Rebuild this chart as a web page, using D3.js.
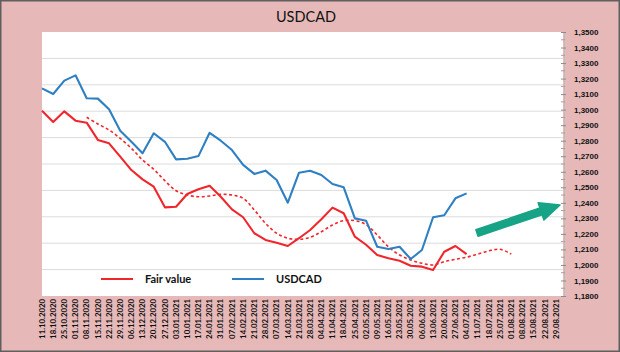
<!DOCTYPE html>
<html>
<head>
<meta charset="utf-8">
<script src="https://d3js.org/d3.v7.min.js"></script>
<style>
  body { margin: 0; background: #fff; }
  svg { display: block; }
</style>
</head>
<body>
<div id="chart"></div>
<script>
// weekly categories
const dates = [
  "11.10.2020", "18.10.2020", "25.10.2020", "01.11.2020", "08.11.2020", "15.11.2020",
  "22.11.2020", "29.11.2020", "06.12.2020", "13.12.2020", "20.12.2020", "27.12.2020",
  "03.01.2021", "10.01.2021", "17.01.2021", "24.01.2021", "31.01.2021", "07.02.2021",
  "14.02.2021", "21.02.2021", "28.02.2021", "07.03.2021", "14.03.2021", "21.03.2021",
  "28.03.2021", "04.04.2021", "11.04.2021", "18.04.2021", "25.04.2021", "02.05.2021",
  "09.05.2021", "16.05.2021", "23.05.2021", "30.05.2021", "06.06.2021", "13.06.2021",
  "20.06.2021", "27.06.2021", "04.07.2021", "11.07.2021", "18.07.2021", "25.07.2021",
  "01.08.2021", "08.08.2021", "15.08.2021", "22.08.2021", "29.08.2021"
];

const usdcad = [
  1.3137, 1.3101, 1.3187, 1.3221, 1.3073, 1.3071, 1.3002, 1.2864, 1.2793, 1.2719,
  1.2848, 1.2793, 1.2680, 1.2684, 1.2701, 1.2851, 1.2800, 1.2740, 1.2644, 1.2586,
  1.2607, 1.2547, 1.2401, 1.2594, 1.2607, 1.2579, 1.2521, 1.2500, 1.2300, 1.2285,
  1.2117, 1.2103, 1.2117, 1.2038, 1.2096, 1.2307, 1.2320, 1.2429, 1.2461
];

const fairValue = [
  1.2993, 1.2920, 1.2989, 1.2929, 1.2916, 1.2805, 1.2783, 1.2697, 1.2611, 1.2551,
  1.2504, 1.2371, 1.2375, 1.2457, 1.2487, 1.2510, 1.2439, 1.2358, 1.2307, 1.2204,
  1.2161, 1.2143, 1.2122, 1.2172, 1.2225, 1.2294, 1.2369, 1.2333, 1.2182, 1.2130,
  1.2064, 1.2043, 1.2027, 1.1995, 1.1989, 1.1967, 1.2085, 1.2122, 1.2070
];

// smoothed fair value (dashed, no legend entry)
const fairTrend = [
  null, null, null, null, 1.2951, 1.2908, 1.2869, 1.2815, 1.2751, 1.2676,
  1.2616, 1.2542, 1.2478, 1.2450, 1.2439, 1.2444, 1.2455, 1.2450, 1.2429, 1.2354,
  1.2268, 1.2204, 1.2172, 1.2165, 1.2178, 1.2214, 1.2257, 1.2285, 1.2285, 1.2260,
  1.2193, 1.2117, 1.2064, 1.2032, 1.2011, 1.2000, 1.2021, 1.2036, 1.2050, 1.2070,
  1.2091, 1.2101, 1.2070
];

const yTicks = d3.range(1.18, 1.3501, 0.01);

const W = 620, H = 352;
const plot = { left: 42, right: 563, top: 32, bottom: 296 };

const svg = d3.select("#chart").append("svg")
  .attr("width", W)
  .attr("height", H)
  .style("font-family", "Lato, 'Open Sans', sans-serif");

// background + frame
svg.append("rect")
  .attr("x", 0).attr("y", 0).attr("width", W).attr("height", H)
  .attr("fill", "#e6b9b8");
svg.append("rect")
  .attr("x", 0.75).attr("y", 0.75).attr("width", W - 1.5).attr("height", H - 1.5)
  .attr("fill", "none").attr("stroke", "#5f5f5f").attr("stroke-width", 1.5);

svg.append("rect")
  .attr("x", plot.left).attr("y", plot.top)
  .attr("width", plot.right - plot.left).attr("height", plot.bottom - plot.top)
  .attr("fill", "#fff");

const x = d3.scalePoint()
  .domain(dates)
  .range([plot.left, 556]);

const y = d3.scaleLinear()
  .domain([1.18, 1.35])
  .range([plot.bottom, plot.top]);

// gridlines belong to the hidden primary axis (10 divisions)
const yGrid = d3.scaleLinear().domain([0, 10]).range([plot.bottom, plot.top]);
svg.append("g")
  .selectAll("line")
  .data(d3.range(1, 10))
  .join("line")
  .attr("x1", plot.left).attr("x2", plot.right)
  .attr("y1", d => yGrid(d)).attr("y2", d => yGrid(d))
  .attr("stroke", "#dcdcdc").attr("stroke-width", 1);

// right axis
const fmt = d => d3.format(".4f")(d).replace(".", ",");
const yAxis = svg.append("g")
  .attr("transform", `translate(${plot.right + 1},0)`)
  .call(d3.axisRight(y).tickValues(yTicks).tickFormat(fmt).tickSize(3).tickPadding(7));
yAxis.select(".domain").attr("stroke", "#bdbdbd");
yAxis.selectAll(".tick line").attr("stroke", "#8c8c8c").attr("x1", -3).attr("x2", 2);
yAxis.selectAll("text")
  .style("font-size", "8px")
  .style("font-weight", "bold")
  .attr("fill", "#111");
svg.append("g")
  .selectAll("line")
  .data(d3.range(1.185, 1.35, 0.01))
  .join("line")
  .attr("x1", plot.right - 2).attr("x2", plot.right + 2)
  .attr("y1", d => y(d)).attr("y2", d => y(d))
  .attr("stroke", "#a0a0a0");

// x labels
svg.append("g")
  .selectAll("text")
  .data(dates)
  .join("text")
  .attr("transform", d => `translate(${x(d) + 2.7},${plot.bottom + 3}) rotate(-90)`)
  .attr("text-anchor", "end")
  .style("font-size", "7.8px")
  .style("font-weight", "bold")
  .attr("fill", "#111")
  .text(d => d);

// lines
const line = d3.line()
  .defined(d => d.v != null)
  .x(d => x(d.date))
  .y(d => y(d.v));

const toPts = arr => arr.map((v, i) => ({ date: dates[i], v: v }));

svg.append("path")
  .datum(toPts(fairTrend))
  .attr("fill", "none")
  .attr("stroke", "#f0262c")
  .attr("stroke-width", 1.6)
  .attr("stroke-dasharray", "3,2.5")
  .attr("d", line.curve(d3.curveCatmullRom.alpha(0.5)));

svg.append("path")
  .datum(toPts(fairValue))
  .attr("fill", "none")
  .attr("stroke", "#f0262c")
  .attr("stroke-width", 2.1)
  .attr("stroke-linejoin", "round")
  .attr("d", line.curve(d3.curveLinear));

svg.append("path")
  .datum(toPts(usdcad))
  .attr("fill", "none")
  .attr("stroke", "#2f7fc3")
  .attr("stroke-width", 2.1)
  .attr("stroke-linejoin", "round")
  .attr("d", line.curve(d3.curveLinear));

// green arrow annotation
const ax0 = 477, ay0 = 233, ax1 = 560, ay1 = 205;
const ang = Math.atan2(ay1 - ay0, ax1 - ax0);
const headLen = 20, headW = 9, shaftW = 3.5;
const bx = ax1 - headLen * Math.cos(ang), by = ay1 - headLen * Math.sin(ang);
const nx = -Math.sin(ang), ny = Math.cos(ang);
const arrowPts = [
  [ax0 + nx * shaftW, ay0 + ny * shaftW],
  [bx + nx * shaftW, by + ny * shaftW],
  [bx + nx * headW, by + ny * headW],
  [ax1, ay1],
  [bx - nx * headW, by - ny * headW],
  [bx - nx * shaftW, by - ny * shaftW],
  [ax0 - nx * shaftW, ay0 - ny * shaftW]
];
svg.append("path")
  .attr("d", "M" + arrowPts.map(p => p.join(",")).join("L") + "Z")
  .attr("fill", "#17a386")
  .attr("stroke", "#17a386")
  .attr("stroke-width", 1.5)
  .attr("stroke-linejoin", "round");

// title
svg.append("text")
  .attr("x", 306)
  .attr("y", 22)
  .attr("text-anchor", "middle")
  .style("font-size", "14.5px")
  .attr("fill", "#111")
  .text("USDCAD");

// legend
const legend = [
  { name: "Fair value", color: "#f0262c", x: 101 },
  { name: "USDCAD", color: "#2f7fc3", x: 232 }
];
const lg = svg.append("g");
legend.forEach(d => {
  lg.append("line")
    .attr("x1", d.x).attr("x2", d.x + 32)
    .attr("y1", 279).attr("y2", 279)
    .attr("stroke", d.color).attr("stroke-width", 2);
  lg.append("text")
    .attr("x", d.x + 44).attr("y", 283)
    .style("font-size", "11px")
    .style("font-weight", "bold")
    .attr("fill", "#111")
    .text(d.name);
});
</script>
</body>
</html>
